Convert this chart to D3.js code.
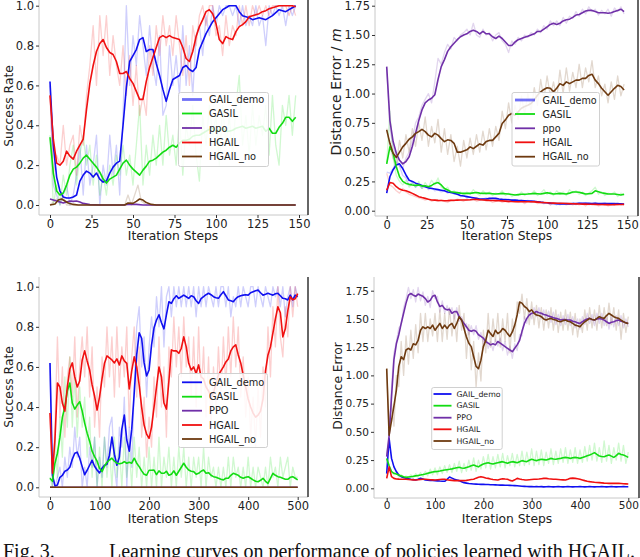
<!DOCTYPE html>
<html><head><meta charset="utf-8">
<script src="https://cdn.jsdelivr.net/npm/d3@7"></script>
<style>body{margin:0;background:#fff}svg{display:block}</style>
</head><body><svg id="c" width="640" height="557"></svg>
<script>
// ---------- categories / steps ----------
const stepsTop = d3.range(0, 149, 2);     // 0..148
const stepsBottom = d3.range(0, 501, 5);  // 0..500
const namesTop = ["GAIL_demo", "GASIL", "ppo", "HGAIL", "HGAIL_no"];
const namesBottom = ["GAIL_demo", "GASIL", "PPO", "HGAIL", "HGAIL_no"];
const xTicksTop = [0, 25, 50, 75, 100, 125, 150];
const xTicksBottom = [0, 100, 200, 300, 400, 500];
const yTicksRate = [0, 0.2, 0.4, 0.6, 0.8, 1.0];
const yTicksDist = [0, 0.25, 0.5, 0.75, 1.0, 1.25, 1.5, 1.75];

// ---------- panel 1 : success rate, 150 steps ----------
const p1Gail = [0.62,0.30,0.14,0.07,0.04,0.035,0.035,0.04,0.05,0.12,0.15,0.17,0.16,0.14,0.16,0.13,0.115,0.12,0.16,0.19,0.21,0.22,0.40,0.59,0.72,0.75,0.78,0.83,0.84,0.77,0.78,0.78,0.71,0.65,0.58,0.52,0.58,0.63,0.64,0.65,0.69,0.70,0.68,0.67,0.69,0.78,0.82,0.86,0.89,0.92,0.94,0.96,0.98,0.99,1.0,1.0,1.0,0.97,0.95,0.945,0.94,0.93,0.935,0.94,0.935,0.93,0.94,0.95,0.965,0.98,0.975,0.97,0.98,0.99,1.0];
const p1Gasil = [0.34,0.16,0.07,0.05,0.06,0.10,0.15,0.18,0.19,0.21,0.235,0.25,0.23,0.21,0.19,0.165,0.13,0.11,0.13,0.14,0.15,0.18,0.21,0.225,0.20,0.18,0.165,0.15,0.175,0.195,0.22,0.225,0.235,0.25,0.265,0.275,0.29,0.30,0.29,0.31,0.325,0.325,0.33,0.345,0.35,0.35,0.36,0.37,0.38,0.385,0.37,0.375,0.385,0.37,0.37,0.375,0.385,0.39,0.395,0.385,0.39,0.395,0.385,0.39,0.395,0.37,0.385,0.36,0.36,0.39,0.41,0.44,0.44,0.42,0.44];
const p1Ppo = [[0,0.03],[2,0.025],[4,0.02],[6,0.015],[8,0.01],[10,0.015],[12,0.02],[14,0.018],[16,0.02],[18,0.015],[20,0.008],[24,0.002],[30,0],[44,0],[48,0.004],[52,0.003],[56,0],[148,0]];
const p1Hgail = [0.55,0.33,0.21,0.20,0.22,0.27,0.245,0.23,0.27,0.30,0.33,0.48,0.61,0.70,0.77,0.81,0.83,0.79,0.765,0.755,0.72,0.66,0.66,0.67,0.635,0.61,0.57,0.53,0.53,0.62,0.69,0.74,0.79,0.84,0.85,0.84,0.85,0.84,0.835,0.83,0.79,0.735,0.72,0.77,0.845,0.895,0.93,0.97,0.98,0.96,0.91,0.83,0.81,0.845,0.835,0.83,0.87,0.895,0.905,0.92,0.945,0.95,0.955,0.96,0.97,0.975,0.985,0.99,0.995,1.0,1.0,1.0,1.0,1.0,0.995];
const p1HgailNo = [[0,0],[3,0.005],[5,0.025],[7,0.03],[9,0.02],[11,0.01],[14,0.003],[17,0],[45,0],[47,0.01],[50,0.008],[52,0.018],[54,0.03],[56,0.025],[58,0.012],[61,0.003],[64,0],[148,0]];
const p1GailRaw = [0.6,0.1,0.05,0.0,0.05,0.1,0.0,0.05,0.15,0.3,0.05,0.3,0.1,0.2,0.35,0.0,0.2,0.1,0.35,0.15,0.3,0.05,0.45,1.0,0.6,0.85,0.7,0.95,0.8,0.65,0.9,0.7,0.6,0.85,0.45,0.5,0.8,0.6,0.75,0.55,0.9,0.6,0.8,0.55,0.85,0.9,0.75,0.95,0.85,1.0,0.9,1.0,0.95,1.0,1.0,0.95,1.0,0.9,1.0,0.9,0.95,0.9,1.0,0.9,0.95,0.8,1.0,0.95,1.0,0.95,1.0,0.9,1.0,0.95,1.0];
const p1GasilRaw = [0.35,0.0,0.1,0.0,0.15,0.05,0.2,0.3,0.1,0.25,0.35,0.2,0.3,0.1,0.25,0.05,0.15,0.05,0.2,0.1,0.25,0.15,0.3,0.15,0.25,0.1,0.3,0.5,0.1,0.3,0.15,0.35,0.2,0.4,0.2,0.45,0.25,0.35,0.2,0.45,0.15,0.4,0.3,0.5,0.25,0.12,0.45,0.3,0.5,0.35,0.45,0.2,0.5,0.3,0.45,0.25,0.5,0.65,0.3,0.45,0.25,0.5,0.3,0.45,0.35,0.5,0.25,0.55,0.3,0.2,0.5,0.4,0.55,0.35,0.55];
const p1HgailRaw = [0.55,0.15,0.25,0.2,0.4,0.2,0.3,0.35,0.15,0.4,0.3,0.55,0.7,0.9,0.6,0.95,0.75,0.95,0.65,0.85,0.7,0.6,0.8,0.55,0.75,0.5,0.7,0.45,0.55,0.45,0.8,0.65,0.9,0.75,0.95,0.8,0.9,0.75,0.95,0.8,0.65,0.85,0.6,0.9,0.8,0.95,1.0,0.9,1.0,1.0,0.85,0.9,0.75,0.95,0.8,0.9,0.85,1.0,0.9,1.0,0.9,1.0,0.95,1.0,0.95,1.0,0.95,1.0,1.0,1.0,1.0,1.0,0.95,1.0,0.95];
const p1HgailNoRaw = [[0,0],[4,0.03],[6,0.01],[8,0.04],[10,0],[45,0],[47,0.05],[49,0],[53,0.1],[55,0.02],[58,0],[148,0]];

// ---------- panel 2 : distance error, 150 steps ----------
const p2Gail = [0.15,0.29,0.35,0.39,0.40,0.36,0.305,0.26,0.25,0.235,0.225,0.215,0.205,0.195,0.19,0.185,0.18,0.175,0.17,0.16,0.155,0.15,0.14,0.13,0.125,0.12,0.115,0.11,0.105,0.10,0.10,0.10,0.105,0.105,0.105,0.10,0.097,0.095,0.093,0.09,0.09,0.088,0.087,0.085,0.083,0.083,0.08,0.077,0.073,0.07,0.068,0.065,0.062,0.06,0.058,0.057,0.057,0.057,0.06,0.062,0.063,0.063,0.063,0.063,0.062,0.063,0.062,0.061,0.06,0.06,0.06,0.06,0.059,0.058,0.057];
const p2Gasil = [0.40,0.545,0.49,0.375,0.29,0.25,0.233,0.225,0.22,0.216,0.22,0.21,0.213,0.205,0.216,0.233,0.24,0.22,0.19,0.176,0.162,0.158,0.154,0.15,0.148,0.148,0.148,0.152,0.155,0.15,0.148,0.148,0.148,0.145,0.142,0.145,0.148,0.145,0.142,0.138,0.134,0.137,0.14,0.141,0.142,0.145,0.148,0.145,0.142,0.148,0.154,0.148,0.142,0.145,0.148,0.145,0.142,0.15,0.16,0.16,0.157,0.15,0.142,0.145,0.148,0.17,0.162,0.154,0.148,0.142,0.142,0.142,0.138,0.134,0.14];
const p2Ppo = [1.23,0.77,0.59,0.49,0.43,0.40,0.42,0.46,0.55,0.66,0.77,0.86,0.92,0.945,0.96,0.99,1.12,1.23,1.29,1.36,1.40,1.43,1.46,1.485,1.50,1.51,1.53,1.54,1.53,1.51,1.53,1.51,1.51,1.485,1.47,1.49,1.47,1.44,1.41,1.41,1.44,1.46,1.47,1.48,1.49,1.50,1.51,1.53,1.53,1.55,1.57,1.59,1.60,1.59,1.60,1.62,1.63,1.635,1.65,1.67,1.675,1.69,1.705,1.71,1.71,1.70,1.69,1.69,1.69,1.685,1.69,1.70,1.71,1.72,1.70];
const p2Hgail = [0.175,0.24,0.235,0.205,0.185,0.175,0.17,0.16,0.148,0.134,0.12,0.112,0.105,0.098,0.092,0.09,0.088,0.087,0.085,0.086,0.088,0.089,0.09,0.091,0.091,0.091,0.093,0.096,0.097,0.094,0.091,0.09,0.088,0.087,0.086,0.085,0.084,0.082,0.08,0.078,0.077,0.077,0.077,0.077,0.077,0.077,0.075,0.073,0.071,0.07,0.068,0.066,0.065,0.064,0.063,0.063,0.061,0.06,0.059,0.058,0.057,0.056,0.056,0.055,0.055,0.054,0.053,0.053,0.052,0.052,0.051,0.052,0.053,0.053,0.054];
const p2HgailNo = [0.69,0.575,0.49,0.455,0.50,0.545,0.575,0.61,0.63,0.66,0.675,0.695,0.675,0.645,0.63,0.66,0.645,0.615,0.59,0.605,0.60,0.575,0.50,0.50,0.51,0.52,0.545,0.53,0.55,0.57,0.56,0.59,0.60,0.60,0.63,0.66,0.745,0.775,0.815,0.83,0.815,0.845,0.875,0.89,0.90,0.915,0.945,0.985,1.015,1.035,1.05,1.045,1.015,1.045,1.085,1.07,1.10,1.085,1.10,1.115,1.115,1.13,1.13,1.155,1.165,1.115,1.085,1.045,1.015,0.985,1.015,1.045,1.07,1.06,1.03];
const p2GailRaw = [0.33,0.32,0.36,0.42,0.38,0.3,0.28,0.22,0.24,0.2,0.22,0.19,0.21,0.18,0.2,0.17,0.18,0.16,0.17,0.15,0.16,0.14,0.15,0.12,0.13,0.11,0.12,0.1,0.11,0.09,0.1,0.11,0.09,0.11,0.1,0.09,0.1,0.08,0.1,0.08,0.09,0.08,0.09,0.07,0.09,0.07,0.08,0.07,0.07,0.06,0.07,0.05,0.06,0.05,0.07,0.06,0.07,0.06,0.07,0.05,0.07,0.06,0.07,0.05,0.06,0.07,0.05,0.06,0.07,0.05,0.06,0.05,0.07,0.05,0.06];
const p2GasilRaw = [0.4,0.85,0.45,0.3,0.25,0.22,0.26,0.2,0.24,0.2,0.25,0.19,0.24,0.2,0.26,0.22,0.28,0.2,0.18,0.2,0.15,0.17,0.14,0.16,0.13,0.16,0.14,0.18,0.15,0.13,0.17,0.14,0.16,0.13,0.15,0.14,0.17,0.13,0.15,0.12,0.14,0.13,0.16,0.13,0.15,0.14,0.17,0.13,0.15,0.18,0.14,0.16,0.13,0.17,0.14,0.16,0.13,0.18,0.15,0.17,0.14,0.16,0.13,0.15,0.17,0.2,0.14,0.16,0.13,0.15,0.14,0.16,0.12,0.15,0.13];
const p2PpoRaw = [1.22,0.7,0.55,0.45,0.38,0.36,0.45,0.5,0.6,0.75,0.8,0.9,0.95,1.0,0.92,1.1,1.3,1.25,1.35,1.42,1.38,1.48,1.45,1.5,1.52,1.55,1.5,1.6,1.5,1.48,1.55,1.5,1.52,1.45,1.5,1.52,1.45,1.42,1.35,1.45,1.42,1.48,1.45,1.5,1.48,1.52,1.5,1.55,1.52,1.58,1.55,1.62,1.58,1.62,1.58,1.65,1.6,1.66,1.64,1.7,1.66,1.72,1.68,1.74,1.7,1.72,1.67,1.71,1.68,1.72,1.66,1.73,1.7,1.74,1.68];
const p2HgailRaw = [0.32,0.22,0.2,0.17,0.15,0.19,0.16,0.14,0.13,0.12,0.11,0.1,0.09,0.1,0.08,0.09,0.08,0.09,0.08,0.07,0.09,0.08,0.1,0.09,0.08,0.1,0.09,0.1,0.08,0.09,0.1,0.08,0.09,0.07,0.08,0.09,0.07,0.08,0.07,0.09,0.08,0.07,0.08,0.06,0.08,0.07,0.08,0.06,0.07,0.06,0.07,0.05,0.07,0.06,0.05,0.06,0.05,0.06,0.05,0.06,0.05,0.06,0.04,0.06,0.05,0.06,0.04,0.05,0.06,0.04,0.05,0.06,0.05,0.06,0.05];
const p2HgailNoRaw = [0.7,0.55,0.45,0.38,0.6,0.45,0.65,0.5,0.7,0.55,0.75,0.6,0.8,0.55,0.72,0.58,0.78,0.5,0.7,0.48,0.65,0.42,0.55,0.38,0.6,0.45,0.62,0.48,0.65,0.5,0.68,0.52,0.7,0.55,0.72,0.6,0.85,0.7,0.92,0.75,0.9,0.78,0.98,0.82,1.0,0.85,1.05,0.9,1.12,0.95,1.15,0.98,1.1,0.95,1.2,1.0,1.22,1.02,1.18,1.05,1.25,1.05,1.22,1.1,1.28,1.05,1.15,0.98,1.08,0.92,1.1,0.95,1.15,0.98,1.08];

// ---------- panel 3 : success rate, 500 steps ----------
const p3Gail = [0.62,0.06,0.007,0.012,0.05,0.06,0.08,0.086,0.10,0.14,0.17,0.175,0.145,0.103,0.063,0.085,0.11,0.135,0.105,0.086,0.072,0.095,0.11,0.115,0.16,0.25,0.165,0.11,0.15,0.29,0.36,0.236,0.18,0.29,0.47,0.66,0.77,0.743,0.62,0.555,0.585,0.71,0.795,0.834,0.86,0.82,0.79,0.86,0.925,0.917,0.94,0.955,0.942,0.95,0.958,0.95,0.942,0.955,0.95,0.93,0.917,0.94,0.95,0.96,0.967,0.96,0.95,0.945,0.942,0.96,0.975,0.955,0.934,0.93,0.925,0.94,0.95,0.955,0.958,0.96,0.958,0.97,0.975,0.98,0.983,0.97,0.958,0.962,0.967,0.962,0.958,0.965,0.967,0.955,0.942,0.94,0.934,0.958,0.934,0.958,0.95];
const p3Gasil = [0.045,0.03,0.12,0.17,0.25,0.35,0.40,0.48,0.52,0.42,0.39,0.41,0.427,0.38,0.32,0.27,0.23,0.18,0.153,0.13,0.095,0.078,0.105,0.125,0.136,0.145,0.13,0.12,0.117,0.12,0.128,0.12,0.125,0.12,0.145,0.12,0.103,0.082,0.065,0.06,0.085,0.085,0.086,0.063,0.082,0.07,0.07,0.08,0.06,0.065,0.082,0.06,0.08,0.1,0.12,0.1,0.086,0.08,0.078,0.065,0.07,0.08,0.086,0.07,0.073,0.06,0.053,0.05,0.045,0.04,0.037,0.045,0.045,0.06,0.07,0.065,0.06,0.05,0.045,0.05,0.053,0.045,0.037,0.03,0.028,0.035,0.045,0.03,0.02,0.045,0.07,0.06,0.053,0.05,0.045,0.04,0.04,0.05,0.053,0.045,0.037];
const p3Ppo = [[0,0],[500,0]];
const p3Hgail = [0.37,0.07,0.236,0.52,0.50,0.42,0.38,0.50,0.59,0.62,0.55,0.50,0.53,0.635,0.68,0.63,0.585,0.51,0.455,0.385,0.45,0.54,0.618,0.655,0.645,0.635,0.62,0.64,0.61,0.655,0.63,0.618,0.49,0.58,0.65,0.60,0.51,0.40,0.31,0.265,0.244,0.30,0.40,0.50,0.60,0.55,0.42,0.39,0.53,0.685,0.68,0.68,0.668,0.693,0.75,0.70,0.618,0.585,0.60,0.568,0.61,0.55,0.54,0.50,0.48,0.45,0.47,0.52,0.56,0.58,0.60,0.625,0.64,0.68,0.70,0.71,0.66,0.62,0.56,0.50,0.44,0.40,0.37,0.35,0.36,0.38,0.44,0.58,0.66,0.70,0.77,0.84,0.90,0.87,0.75,0.79,0.88,0.95,0.935,0.94,0.965];
const p3HgailNo = [[0,0],[500,0]];
const p3GailRaw = [0.62,0.0,0.0,0.05,0.1,0.0,0.15,0.05,0.2,0.1,0.3,0.15,0.25,0.0,0.1,0.0,0.2,0.1,0.25,0.0,0.15,0.05,0.25,0.1,0.3,0.35,0.1,0.0,0.3,0.2,0.45,0.0,0.3,0.1,0.5,0.8,0.9,0.6,0.75,0.45,0.7,0.85,0.7,0.95,0.8,1.0,0.7,0.95,1.0,0.85,1.0,0.9,1.0,0.9,1.0,0.9,1.0,0.9,1.0,0.85,1.0,0.9,1.0,0.9,1.0,0.95,0.9,1.0,0.9,1.0,1.0,0.9,1.0,0.85,0.95,0.9,1.0,0.9,1.0,0.95,0.9,1.0,1.0,0.9,1.0,0.95,0.9,1.0,0.95,0.9,1.0,0.95,1.0,0.9,1.0,0.85,0.95,1.0,0.9,1.0,0.95];
const p3GasilRaw = [0.05,0.0,0.25,0.05,0.35,0.15,0.55,0.3,0.65,0.3,0.55,0.25,0.5,0.3,0.45,0.15,0.35,0.05,0.25,0.0,0.2,0.0,0.25,0.05,0.2,0.0,0.25,0.05,0.2,0.0,0.25,0.05,0.2,0.0,0.25,0.05,0.2,0.0,0.15,0.0,0.2,0.0,0.15,0.0,0.25,0.0,0.15,0.05,0.2,0.0,0.15,0.0,0.2,0.05,0.2,0.0,0.15,0.0,0.15,0.05,0.15,0.0,0.2,0.0,0.15,0.05,0.1,0.0,0.1,0.0,0.1,0.0,0.15,0.0,0.15,0.05,0.1,0.0,0.1,0.0,0.15,0.0,0.1,0.0,0.1,0.05,0.0,0.1,0.0,0.15,0.05,0.1,0.0,0.15,0.05,0.1,0.15,0.0,0.1,0.05,0.05];
const p3HgailRaw = [0.37,0.05,0.3,0.75,0.35,0.6,0.25,0.55,0.65,0.45,0.75,0.35,0.6,0.75,0.55,0.8,0.45,0.7,0.3,0.5,0.25,0.65,0.5,0.8,0.55,0.75,0.45,0.8,0.5,0.7,0.55,0.8,0.3,0.65,0.8,0.45,0.7,0.25,0.45,0.15,0.35,0.2,0.55,0.35,0.75,0.4,0.6,0.25,0.7,0.55,0.85,0.6,0.8,0.55,0.85,0.6,0.75,0.45,0.75,0.4,0.8,0.45,0.7,0.35,0.65,0.3,0.6,0.4,0.7,0.45,0.75,0.5,0.8,0.55,0.85,0.6,0.8,0.45,0.65,0.35,0.55,0.25,0.45,0.2,0.5,0.25,0.6,0.4,0.8,0.55,0.9,0.7,1.0,0.75,0.65,0.9,0.75,1.0,0.85,1.0,0.9];

// ---------- panel 4 : distance error, 500 steps ----------
const p4Gail = [0.13,0.44,0.265,0.19,0.148,0.118,0.103,0.095,0.088,0.084,0.08,0.077,0.074,0.08,0.088,0.082,0.074,0.072,0.07,0.069,0.068,0.066,0.064,0.063,0.062,0.08,0.1,0.09,0.08,0.074,0.068,0.058,0.05,0.046,0.042,0.04,0.038,0.037,0.036,0.035,0.035,0.034,0.033,0.032,0.031,0.03,0.029,0.028,0.028,0.027,0.027,0.026,0.025,0.024,0.022,0.02,0.018,0.017,0.016,0.015,0.015,0.014,0.015,0.014,0.015,0.013,0.014,0.015,0.014,0.013,0.014,0.015,0.014,0.013,0.014,0.015,0.014,0.013,0.014,0.014,0.015,0.014,0.013,0.014,0.015,0.014,0.013,0.014,0.014,0.015,0.014,0.013,0.014,0.015,0.014,0.013,0.014,0.014,0.015,0.014,0.014];
const p4Gasil = [0.265,0.2,0.148,0.133,0.127,0.118,0.11,0.103,0.097,0.1,0.103,0.106,0.11,0.114,0.118,0.122,0.127,0.133,0.139,0.144,0.148,0.15,0.153,0.158,0.162,0.165,0.168,0.172,0.177,0.182,0.186,0.18,0.177,0.184,0.19,0.2,0.207,0.198,0.19,0.205,0.215,0.222,0.227,0.22,0.215,0.222,0.227,0.232,0.236,0.228,0.221,0.23,0.236,0.232,0.227,0.236,0.245,0.24,0.236,0.248,0.257,0.25,0.245,0.252,0.257,0.254,0.25,0.258,0.265,0.26,0.257,0.262,0.265,0.27,0.274,0.27,0.265,0.27,0.274,0.27,0.265,0.272,0.28,0.288,0.295,0.305,0.316,0.3,0.286,0.282,0.28,0.288,0.295,0.285,0.274,0.29,0.31,0.3,0.295,0.285,0.274];
const p4Ppo = [0.28,0.46,0.81,1.14,1.28,1.36,1.46,1.55,1.64,1.71,1.725,1.71,1.70,1.72,1.71,1.70,1.68,1.65,1.665,1.70,1.71,1.65,1.61,1.62,1.59,1.58,1.585,1.55,1.565,1.565,1.52,1.49,1.46,1.43,1.40,1.39,1.40,1.39,1.36,1.345,1.33,1.30,1.285,1.27,1.28,1.27,1.30,1.285,1.27,1.255,1.24,1.225,1.21,1.24,1.27,1.31,1.39,1.46,1.505,1.535,1.55,1.555,1.565,1.555,1.55,1.54,1.535,1.525,1.52,1.51,1.505,1.5,1.49,1.495,1.495,1.49,1.49,1.48,1.475,1.465,1.46,1.475,1.49,1.5,1.505,1.495,1.49,1.5,1.505,1.5,1.49,1.475,1.46,1.47,1.475,1.485,1.49,1.48,1.475,1.465,1.46];
const p4Hgail = [0.088,0.19,0.103,0.088,0.083,0.081,0.08,0.08,0.08,0.078,0.076,0.075,0.074,0.076,0.078,0.08,0.08,0.078,0.076,0.075,0.074,0.076,0.078,0.08,0.08,0.076,0.072,0.07,0.068,0.068,0.068,0.068,0.068,0.07,0.074,0.078,0.08,0.09,0.098,0.103,0.098,0.092,0.088,0.082,0.078,0.076,0.074,0.08,0.085,0.082,0.08,0.07,0.065,0.075,0.088,0.082,0.078,0.075,0.074,0.076,0.078,0.08,0.08,0.082,0.085,0.088,0.088,0.084,0.082,0.08,0.08,0.078,0.076,0.075,0.074,0.08,0.088,0.09,0.088,0.084,0.08,0.074,0.068,0.063,0.059,0.056,0.053,0.051,0.05,0.048,0.046,0.045,0.044,0.044,0.044,0.044,0.044,0.042,0.04,0.039,0.038];
const p4HgailNo = [1.06,0.47,0.60,0.73,0.87,1.08,1.165,1.14,1.225,1.24,1.225,1.28,1.27,1.31,1.40,1.43,1.415,1.43,1.415,1.445,1.40,1.43,1.46,1.415,1.445,1.415,1.445,1.46,1.415,1.46,1.52,1.49,1.415,1.34,1.285,1.255,1.165,1.08,1.06,1.135,1.255,1.31,1.40,1.37,1.345,1.40,1.37,1.385,1.415,1.40,1.37,1.345,1.385,1.445,1.535,1.65,1.64,1.61,1.595,1.565,1.58,1.55,1.535,1.53,1.52,1.5,1.49,1.5,1.505,1.495,1.49,1.48,1.475,1.485,1.49,1.48,1.475,1.46,1.445,1.44,1.43,1.455,1.475,1.49,1.505,1.495,1.49,1.505,1.52,1.51,1.505,1.53,1.55,1.535,1.52,1.51,1.505,1.49,1.475,1.465,1.46];
const p4GasilRaw = [0.27,0.2,0.15,0.12,0.14,0.1,0.12,0.09,0.11,0.09,0.12,0.09,0.13,0.1,0.14,0.1,0.15,0.11,0.17,0.12,0.18,0.12,0.19,0.13,0.2,0.14,0.21,0.14,0.22,0.15,0.24,0.14,0.22,0.15,0.25,0.16,0.27,0.15,0.25,0.17,0.28,0.18,0.3,0.17,0.28,0.18,0.3,0.19,0.31,0.18,0.29,0.2,0.31,0.19,0.3,0.2,0.33,0.2,0.32,0.21,0.35,0.2,0.33,0.21,0.34,0.2,0.32,0.22,0.35,0.21,0.33,0.22,0.35,0.23,0.36,0.22,0.34,0.23,0.36,0.22,0.34,0.23,0.37,0.24,0.38,0.25,0.4,0.24,0.36,0.23,0.42,0.24,0.38,0.22,0.36,0.25,0.4,0.24,0.38,0.22,0.32];
const p4PpoRaw = [0.3,0.5,0.9,1.2,1.3,1.42,1.45,1.6,1.68,1.78,1.68,1.76,1.65,1.78,1.66,1.74,1.62,1.7,1.6,1.75,1.68,1.7,1.56,1.66,1.55,1.62,1.54,1.6,1.5,1.6,1.48,1.52,1.42,1.46,1.36,1.44,1.36,1.44,1.32,1.38,1.28,1.34,1.24,1.3,1.22,1.32,1.26,1.33,1.22,1.3,1.18,1.26,1.15,1.28,1.22,1.36,1.35,1.52,1.46,1.58,1.5,1.6,1.52,1.6,1.5,1.58,1.48,1.57,1.47,1.56,1.45,1.54,1.44,1.53,1.45,1.54,1.44,1.52,1.42,1.5,1.41,1.52,1.45,1.55,1.46,1.54,1.44,1.55,1.46,1.55,1.44,1.52,1.41,1.52,1.43,1.53,1.44,1.53,1.42,1.5,1.43];
const p4HgailNoRaw = [1.06,0.5,0.75,0.55,1.0,0.9,1.3,1.0,1.35,1.1,1.4,1.15,1.45,1.2,1.55,1.3,1.55,1.3,1.5,1.35,1.55,1.3,1.58,1.3,1.55,1.32,1.6,1.35,1.55,1.3,1.62,1.4,1.55,1.15,1.45,1.05,1.3,0.9,1.2,0.95,1.4,1.2,1.55,1.25,1.5,1.3,1.55,1.25,1.5,1.3,1.55,1.2,1.5,1.3,1.65,1.55,1.72,1.5,1.68,1.45,1.65,1.45,1.62,1.42,1.6,1.4,1.58,1.42,1.6,1.4,1.58,1.38,1.56,1.4,1.58,1.4,1.56,1.36,1.55,1.34,1.5,1.38,1.58,1.4,1.6,1.42,1.58,1.4,1.62,1.42,1.6,1.44,1.64,1.45,1.6,1.4,1.58,1.32,1.55,1.38,1.52];

// ---------- styles ----------
const lineColors = ["#1010f0", "#12dc12", "#7030a8", "#f01010", "#6e3a10"];
const FONT = "'DejaVu Sans', sans-serif";
const svg = d3.select("#c");

function pts(data, steps) {
  return Array.isArray(data[0]) ? data : data.map((v, i) => [steps[i], v]);
}

let clipId = 0;
function panel(cfg) {
  const g = svg.append("g");
  const x = d3.scaleLinear().domain(cfg.xDom).range(cfg.xRange);
  const y = d3.scaleLinear().domain(cfg.yDom).range(cfg.yRange);
  const { l, r, t, b } = cfg.box;
  const id = "clip" + (clipId++);
  g.append("clipPath").attr("id", id).append("rect")
    .attr("x", l).attr("y", t).attr("width", r - l).attr("height", b - t);
  const plot = g.append("g").attr("clip-path", `url(#${id})`);
  const line = d3.line().x(d => x(d[0])).y(d => y(d[1]));
  cfg.series.forEach((s, i) => {
    if (s.raw) plot.append("path").attr("d", line(pts(s.raw, cfg.steps)))
      .attr("fill", "none").attr("stroke", lineColors[i]).attr("stroke-opacity", 0.2)
      .attr("stroke-width", 1.3).attr("stroke-linejoin", "round");
  });
  cfg.series.forEach((s, i) => {
    plot.append("path").attr("d", line(pts(s.smooth, cfg.steps)))
      .attr("fill", "none").attr("stroke", lineColors[i])
      .attr("stroke-width", 1.6).attr("stroke-linejoin", "round");
  });
  // spines
  g.append("line").attr("x1", l).attr("x2", l).attr("y1", t).attr("y2", b).attr("stroke", "#c8c8c8");
  g.append("line").attr("x1", l).attr("x2", r).attr("y1", b).attr("y2", b).attr("stroke", "#c8c8c8");
  g.append("line").attr("x1", r).attr("x2", r).attr("y1", Math.max(t, 0)).attr("y2", b).attr("stroke", "#333").attr("stroke-width", 1.5);
  // axes
  const ya = g.append("g").attr("transform", `translate(${l},0)`)
    .call(d3.axisLeft(y).tickValues(cfg.yTicks).tickFormat(d3.format(cfg.yFmt)).tickSize(3).tickPadding(2));
  const xa = g.append("g").attr("transform", `translate(0,${b})`)
    .call(d3.axisBottom(x).tickValues(cfg.xTicks).tickFormat(d3.format("d")).tickSize(3).tickPadding(cfg.xPad));
  [ya, xa].forEach(a => {
    a.select(".domain").remove();
    a.selectAll("line").attr("stroke", "#333");
    a.selectAll("text").attr("font-family", FONT).attr("font-size", cfg.tickFont).attr("fill", "#222");
  });
  // axis labels
  g.append("text").attr("x", cfg.xLabel[0]).attr("y", cfg.xLabel[1])
    .attr("text-anchor", "middle")
    .attr("font-family", FONT).attr("font-size", 12.3).attr("fill", "#222").text("Iteration Steps");
  const yl = g.append("text").attr("transform", `translate(${cfg.yLabel[0]},${cfg.yLabel[1]}) rotate(-90)`)
    .attr("text-anchor", "middle").attr("dominant-baseline", "central")
    .attr("font-family", FONT).attr("font-size", cfg.yLabelFont).attr("fill", "#222");
  yl.append("tspan").text(cfg.yText);
  if (cfg.yUnit) yl.append("tspan").attr("font-style", "italic").text(cfg.yUnit);
  // legend
  const L = cfg.legend;
  g.append("rect").attr("x", L.x).attr("y", L.y).attr("width", L.w).attr("height", L.h)
    .attr("rx", 2).attr("fill", "#fff").attr("fill-opacity", 0.85).attr("stroke", "#d0d0d0");
  cfg.names.forEach((n, i) => {
    const first = i === 0 && L.softFirst;
    g.append("line").attr("x1", L.lx0).attr("x2", L.lx1).attr("y1", L.rows[i]).attr("y2", L.rows[i])
      .attr("stroke", lineColors[i]).attr("stroke-width", first ? 2.8 : 1.8)
      .attr("stroke-opacity", first ? 0.6 : 1);
    g.append("text").attr("x", L.tx).attr("y", L.rows[i]).attr("dominant-baseline", "central")
      .attr("font-family", FONT).attr("font-size", L.font).attr("fill", "#222").text(n);
  });
}

panel({
  steps: stepsTop, xDom: [0, 150], xRange: [50, 299], yDom: [0, 1], yRange: [205, 5.7],
  box: { l: 39, r: 308, t: -5, b: 215 }, xTicks: xTicksTop, yTicks: yTicksRate, yFmt: ".1f", tickFont: 11.5, xPad: 2,
  xLabel: [173, 239.5], yLabel: [8.5, 106], yText: "Success Rate", yLabelFont: 12.3,
  names: namesTop,
  series: [
    { smooth: p1Gail, raw: p1GailRaw }, { smooth: p1Gasil, raw: p1GasilRaw },
    { smooth: p1Ppo }, { smooth: p1Hgail, raw: p1HgailRaw }, { smooth: p1HgailNo, raw: p1HgailNoRaw }
  ],
  legend: { x: 178.5, y: 92.5, w: 90, h: 74, rows: [99.5, 113.5, 128, 142.5, 156.5], lx0: 182, lx1: 202, tx: 209, font: 9.8, softFirst: true }
});
panel({
  steps: stepsTop, xDom: [0, 150], xRange: [386.7, 627.3], yDom: [0, 1.75], yRange: [210.7, 5.7],
  box: { l: 375, r: 638, t: -5, b: 216 }, xTicks: xTicksTop, yTicks: yTicksDist, yFmt: ".2f", tickFont: 11.5, xPad: 2,
  xLabel: [507, 239.5], yLabel: [335.5, 92], yText: "Distance Error / ", yUnit: "m", yLabelFont: 14,
  names: namesTop,
  series: [
    { smooth: p2Gail, raw: p2GailRaw }, { smooth: p2Gasil, raw: p2GasilRaw },
    { smooth: p2Ppo, raw: p2PpoRaw }, { smooth: p2Hgail, raw: p2HgailRaw }, { smooth: p2HgailNo, raw: p2HgailNoRaw }
  ],
  legend: { x: 512, y: 92.5, w: 87.5, h: 73.5, rows: [100, 114, 128.3, 142.3, 156.7], lx0: 515, lx1: 535, tx: 542.5, font: 9.6, softFirst: true }
});
panel({
  steps: stepsBottom, xDom: [0, 500], xRange: [50, 297.7], yDom: [0, 1], yRange: [487.3, 286.7],
  box: { l: 39, r: 308, t: 277, b: 497 }, xTicks: xTicksBottom, yTicks: yTicksRate, yFmt: ".1f", tickFont: 11.5, xPad: 1.5,
  xLabel: [173, 522.5], yLabel: [8.5, 387], yText: "Success Rate", yLabelFont: 12.3,
  names: namesBottom,
  series: [
    { smooth: p3Gail, raw: p3GailRaw }, { smooth: p3Gasil, raw: p3GasilRaw },
    { smooth: p3Ppo }, { smooth: p3Hgail, raw: p3HgailRaw }, { smooth: p3HgailNo }
  ],
  legend: { x: 178.5, y: 373.5, w: 89, h: 74, rows: [382.3, 396.7, 410.7, 425, 439], lx0: 182, lx1: 202, tx: 209, font: 9.8 }
});
panel({
  steps: stepsBottom, xDom: [0, 500], xRange: [386.7, 628.3], yDom: [0, 1.75], yRange: [488.3, 290.7],
  box: { l: 374, r: 639, t: 277, b: 498 }, xTicks: xTicksBottom, yTicks: yTicksDist, yFmt: ".2f", tickFont: 10.5, xPad: 1,
  xLabel: [507, 522.5], yLabel: [338, 386], yText: "Distance Error", yLabelFont: 12.3,
  names: namesBottom,
  series: [
    { smooth: p4Gail }, { smooth: p4Gasil, raw: p4GasilRaw },
    { smooth: p4Ppo, raw: p4PpoRaw }, { smooth: p4Hgail }, { smooth: p4HgailNo, raw: p4HgailNoRaw }
  ],
  legend: { x: 431.7, y: 387.5, w: 70.5, h: 62, rows: [394, 405.7, 417.7, 429.3, 441], lx0: 433.5, lx1: 451.5, tx: 456.5, font: 7.8 }
});

// caption
const capFont = "'Liberation Serif', 'Times New Roman', serif";
svg.append("text").attr("x", 3).attr("y", 557.5).attr("font-family", capFont).attr("font-size", 20)
  .attr("fill", "#111").text("Fig. 3.");
svg.append("text").attr("x", 109).attr("y", 557.5).attr("font-family", capFont).attr("font-size", 20)
  .attr("fill", "#111").text("Learning curves on performance of policies learned with HGAIL.");
</script>
</body></html>
